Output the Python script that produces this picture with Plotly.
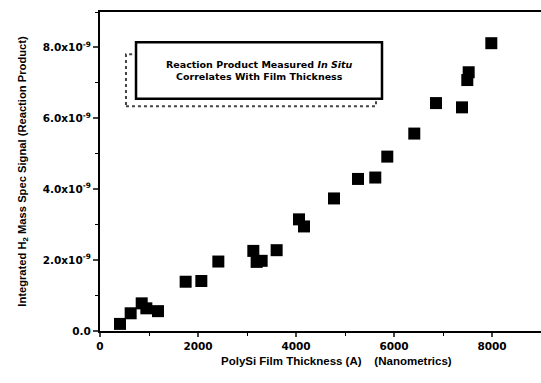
import plotly.graph_objects as go

# PolySi film thickness (Angstrom, Nanometrics) vs integrated H2 mass-spec signal
thickness = [408, 626, 851, 946, 1184, 1748, 2068, 2415, 3129, 3197, 3299, 3605,
             4061, 4163, 4776, 5265, 5618, 5863, 6414, 6857, 7388, 7496, 7524, 7986]
signal_e9 = [0.20, 0.50, 0.78, 0.64, 0.56, 1.39, 1.41, 1.96, 2.26, 1.95, 1.98, 2.28,
             3.15, 2.95, 3.74, 4.29, 4.33, 4.92, 5.57, 6.43, 6.31, 7.08, 7.30, 8.12]
signal = [v * 1e-9 for v in signal_e9]

x_tick_vals = [0, 2000, 4000, 6000, 8000]
y_tick_vals = [0, 2e-9, 4e-9, 6e-9, 8e-9]
y_tick_text = ["0.0", "2.0x10<sup>-9</sup>", "4.0x10<sup>-9</sup>",
               "6.0x10<sup>-9</sup>", "8.0x10<sup>-9</sup>"]

FONT = "Liberation Sans"
HEAVY = "DejaVu Sans"

fig = go.Figure()
fig.add_trace(go.Scatter(
    x=thickness, y=signal, mode="markers",
    marker=dict(symbol="square", size=12, color="black", line=dict(width=0)),
    showlegend=False, cliponaxis=False,
))

# Caption box with offset dotted backing panel
fig.add_shape(type="rect", xref="x", yref="y", x0=530, x1=5633, y0=6.34e-9, y1=7.81e-9,
              line=dict(color="#444444", width=2, dash="dot"), fillcolor="white", layer="above")
fig.add_shape(type="rect", xref="x", yref="y", x0=735, x1=5755, y0=6.55e-9, y1=8.15e-9,
              line=dict(color="black", width=2.5), fillcolor="white", layer="above")
fig.add_annotation(
    x=3245, y=7.35e-9, xref="x", yref="y", showarrow=False,
    text="Reaction Product Measured <i>In Situ</i><br>Correlates With Film Thickness",
    font=dict(family=HEAVY, size=9.5, color="black", weight=800), align="center",
)

# X-axis title, set slightly right of the plot centre
fig.add_annotation(
    x=0.537, y=-0.094, xref="paper", yref="paper", xanchor="center", yanchor="middle",
    showarrow=False, text="PolySi Film Thickness (A)    (Nanometrics)",
    font=dict(family=FONT, size=11.5, color="black", weight=800),
)

fig.update_layout(
    width=541, height=383,
    margin=dict(l=100, r=0, t=12, b=52),
    paper_bgcolor="white", plot_bgcolor="white",
    font=dict(family=FONT, color="black"),
    xaxis=dict(
        range=[0, 9000], tickvals=x_tick_vals, ticks="outside", ticklen=4, tickwidth=1.5,
        minor=dict(dtick=1000, ticks="outside", ticklen=3, tickwidth=1.2, tickcolor="black"),
        showline=True, linecolor="black", linewidth=2, mirror=True, showgrid=False, zeroline=False,
        tickfont=dict(family=HEAVY, size=10.5, weight="bold"),
    ),
    yaxis=dict(
        range=[0, 9e-9], tickvals=y_tick_vals, ticktext=y_tick_text, ticks="outside",
        ticklen=5, tickwidth=1.5,
        minor=dict(dtick=1e-9, ticks="outside", ticklen=3, tickwidth=1.2, tickcolor="black"),
        showline=True, linecolor="black", linewidth=2, showgrid=False, zeroline=False,
        tickfont=dict(family=HEAVY, size=10.5, weight="bold"),
        title=dict(text="Integrated H<sub>2</sub> Mass Spec Signal (Reaction Product)",
                   font=dict(family=FONT, size=11.2, weight="bold"), standoff=14),
    ),
)

fig.write_html("out.html")
